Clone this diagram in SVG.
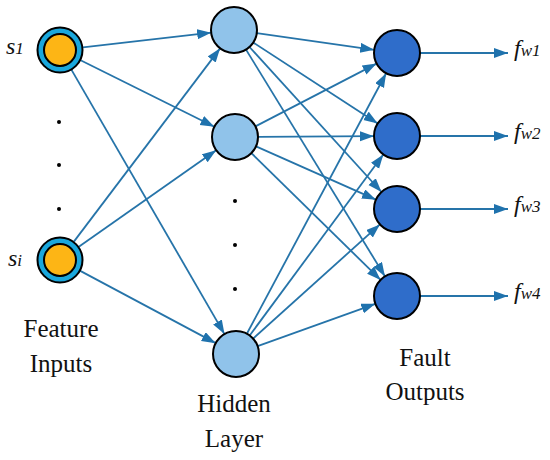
<svg xmlns="http://www.w3.org/2000/svg" width="550" height="460" viewBox="0 0 550 460">
<style>
.c{stroke:#2674a9;stroke-width:1.8;fill:none;marker-end:url(#ah)}
.nd{stroke:#000;stroke-width:2}
.in-o{fill:#1aa7dc}
.in-i{fill:#fdb515}
.hid{fill:#90c3ea}
.out{fill:#2f6dca}
.lbl{font-family:"Liberation Serif","DejaVu Serif",serif;font-size:25px;fill:#111;text-anchor:middle}
.var{font-family:"Liberation Serif","DejaVu Serif",serif;font-style:italic;fill:#111}
.big{font-size:24px}
.sub{font-size:17px}
.dot{fill:#000}
</style>
<defs>
<marker id="ah" markerUnits="userSpaceOnUse" markerWidth="16" markerHeight="12" refX="14" refY="5" orient="auto">
<path d="M0,0 L14,5 L0,10 Z" fill="#1f72ad"/>
</marker>
</defs>
<rect width="550" height="460" fill="#fff"/>
<g id="connectors">
<line class="c" x1="82.85" y1="47.37" x2="211.15" y2="32.63"/>
<line class="c" x1="80.6" y1="60.24" x2="214.4" y2="126.76"/>
<line class="c" x1="71.52" y1="69.9" x2="224.48" y2="334.1"/>
<line class="c" x1="73.88" y1="241.66" x2="220.12" y2="48.34"/>
<line class="c" x1="78.82" y1="246.77" x2="216.18" y2="150.23"/>
<line class="c" x1="80.29" y1="270.84" x2="215.71" y2="343.16"/>
<line class="c" x1="256.78" y1="33.21" x2="374.22" y2="49.79"/>
<line class="c" x1="253.28" y1="42.54" x2="377.72" y2="123.46"/>
<line class="c" x1="249.49" y1="47.0" x2="381.51" y2="191.99"/>
<line class="c" x1="246.02" y1="49.61" x2="384.98" y2="276.39"/>
<line class="c" x1="255.42" y1="126.41" x2="376.58" y2="63.59"/>
<line class="c" x1="258" y1="136.86" x2="374" y2="136.14"/>
<line class="c" x1="256.02" y1="146.34" x2="375.98" y2="199.66"/>
<line class="c" x1="251.41" y1="153.11" x2="380.59" y2="279.89"/>
<line class="c" x1="246.85" y1="333.72" x2="386.15" y2="73.28"/>
<line class="c" x1="249.66" y1="335.5" x2="383.34" y2="154.5"/>
<line class="c" x1="253.09" y1="338.61" x2="379.91" y2="224.39"/>
<line class="c" x1="257.64" y1="346.2" x2="375.36" y2="303.8"/>
<line class="c" x1="420" y1="53" x2="508" y2="53"/>
<line class="c" x1="420" y1="136" x2="508" y2="136"/>
<line class="c" x1="420" y1="209" x2="508" y2="209"/>
<line class="c" x1="420" y1="296" x2="508" y2="296"/>
</g>
<g id="in1"><circle class="nd in-o" cx="60" cy="50" r="22.5"/><circle class="nd in-i" cx="60" cy="50" r="16"/>
<text class="var" x="6" y="54"><tspan class="big">s</tspan><tspan class="sub">1</tspan></text></g>
<g id="ini"><circle class="nd in-o" cx="60" cy="260" r="22.5"/><circle class="nd in-i" cx="60" cy="260" r="16"/>
<text class="var" x="8" y="266"><tspan class="big">s</tspan><tspan class="sub">i</tspan></text></g>
<g id="in-dots"><circle class="dot" cx="59" cy="122" r="2"/><circle class="dot" cx="59" cy="165" r="2"/><circle class="dot" cx="59" cy="209" r="2"/></g>
<g id="h1"><circle class="nd hid" cx="234" cy="30" r="23"/></g>
<g id="h2"><circle class="nd hid" cx="235" cy="137" r="23"/></g>
<g id="h3"><circle class="nd hid" cx="236" cy="354" r="23"/></g>
<g id="h-dots"><circle class="dot" cx="235" cy="201" r="2"/><circle class="dot" cx="235" cy="245" r="2"/><circle class="dot" cx="235" cy="289" r="2"/></g>
<g id="o1"><circle class="nd out" cx="397" cy="53" r="23"/><text class="var" x="514" y="56"><tspan class="big">f</tspan><tspan class="sub">w1</tspan></text></g>
<g id="o2"><circle class="nd out" cx="397" cy="136" r="23"/><text class="var" x="514" y="139"><tspan class="big">f</tspan><tspan class="sub">w2</tspan></text></g>
<g id="o3"><circle class="nd out" cx="397" cy="209" r="23"/><text class="var" x="514" y="212"><tspan class="big">f</tspan><tspan class="sub">w3</tspan></text></g>
<g id="o4"><circle class="nd out" cx="397" cy="296" r="23"/><text class="var" x="514" y="299"><tspan class="big">f</tspan><tspan class="sub">w4</tspan></text></g>
<g id="labels">
<text class="lbl" x="61" y="337">Feature</text>
<text class="lbl" x="61" y="372">Inputs</text>
<text class="lbl" x="234" y="412">Hidden</text>
<text class="lbl" x="234" y="447">Layer</text>
<text class="lbl" x="425" y="366">Fault</text>
<text class="lbl" x="425" y="400">Outputs</text>
</g>
</svg>
